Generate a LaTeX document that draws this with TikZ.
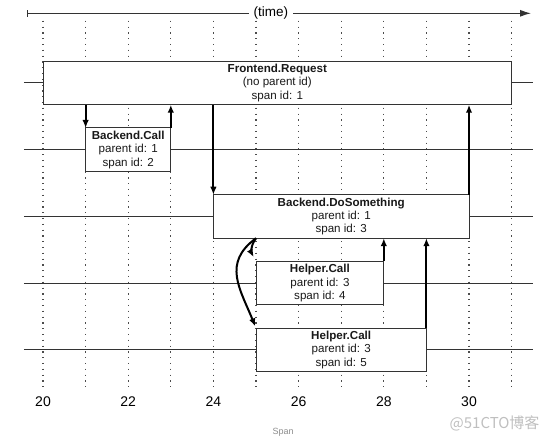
\documentclass[tikz,border=0pt]{standalone}
\usepackage{fontspec}
\setmainfont{Liberation Sans}
\newfontfamily\cjkfont{Noto Sans CJK SC}
\usetikzlibrary{arrows.meta}

\tikzset{
  spanbox/.style={draw=black!80, line width=1pt, fill=white, anchor=west, align=center,
    minimum height=43.5pt, inner sep=2pt, outer sep=0pt, text=black!90,
    font=\fontsize{11.6}{13.3}\selectfont},
  callarrow/.style={line width=2pt, -{Latex[length=8pt,width=6.5pt]}},
  levelline/.style={black!80, line width=1pt},
  timegrid/.style={black!70, line width=1.2pt, dash pattern=on 1.2pt off 4.6pt},
}

\begin{document}
\begin{tikzpicture}[x=42.6pt, y=66.75pt]
\useasboundingbox (18.9906,1.2434) rectangle (31.9953,-5.3483);
% time axis
\coordinate (tstart) at (19.624,1.044);
\coordinate (tend) at (31.455,1.044);
\draw[{Bar[width=7pt]}-{Latex[length=11pt,width=7pt]}, line width=1.1pt, black!80] (tstart) -- (tend);
\node[fill=white, inner xsep=5pt, font=\fontsize{13.5}{16}\selectfont] (time) at (25.35,1.044) {(time)};
% grid
\foreach \t in {20,...,31} \draw[timegrid] (\t,0.933) -- (\t,-4.584);
\foreach \l in {0,...,4} \draw[levelline] (19.55,-\l) -- (31.5,-\l);
% spans
\node[spanbox, minimum width=11*42.6pt] (fr) at (20,0) {\textbf{Frontend.Request}\\(no parent id)\\span id: 1};
\node[spanbox, minimum width=2*42.6pt] (bc) at (21,-1) {\textbf{Backend.Call}\\parent id: 1\\span id: 2};
\node[spanbox, minimum width=6*42.6pt] (ds) at (24,-2) {\textbf{Backend.DoSomething}\\parent id: 1\\span id: 3};
\node[spanbox, minimum width=3*42.6pt] (h1) at (25,-3) {\textbf{Helper.Call}\\parent id: 3\\span id: 4};
\node[spanbox, minimum width=4*42.6pt] (h2) at (25,-4) {\textbf{Helper.Call}\\parent id: 3\\span id: 5};
% calls and returns
\draw[callarrow] (fr.south -| bc.west) -- (bc.north west);
\draw[callarrow] (bc.north east) -- (bc.north east |- fr.south);
\draw[callarrow] (fr.south -| ds.west) -- (ds.north west);
\draw[callarrow] (ds.north east) -- (ds.north east |- fr.south);
\draw[callarrow, shorten >=5pt] (ds.south -| h1.west) to[out=-129,in=118] (h1.north west);
\draw[callarrow, shorten >=2pt] (ds.south -| h1.west) to[out=-144,in=112, looseness=1.2] (h2.north west);
\draw[callarrow] (h1.north east) -- (h1.north east |- ds.south);
\draw[callarrow] (h2.north east) -- (h2.north east |- ds.south);
% time labels
\foreach \t in {20,22,...,30} \node[font=\fontsize{14}{16}\selectfont] (lab\t) at (\t,-4.771) {\t};
\node[text=black!45, font=\fontsize{9}{11}\selectfont] (caption) at (25.634,-5.228) {Span};
\node[text=black!25, font=\cjkfont\fontsize{15}{17}\selectfont] (mark) at (30.6,-5.094) {@51CTO博客};
\end{tikzpicture}
\end{document}
